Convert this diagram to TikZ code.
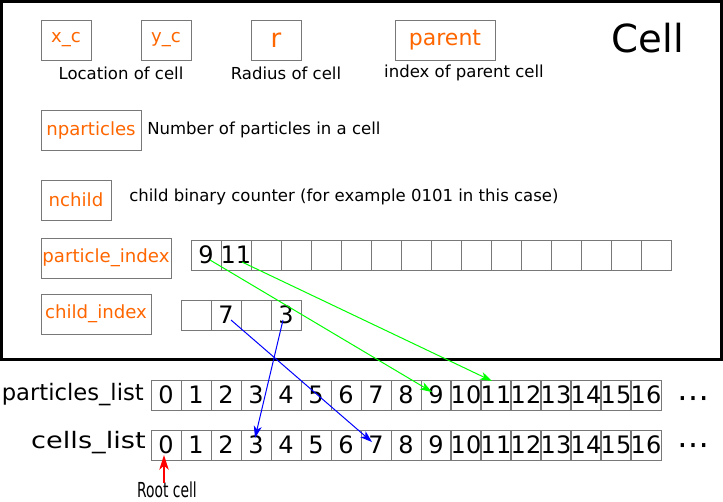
\documentclass[tikz,border=0pt]{standalone}
\usepackage{fontspec}
\setmainfont{DejaVu Sans}
\usetikzlibrary{arrows.meta}
\definecolor{fieldorange}{RGB}{255,102,0}
\definecolor{boxgray}{RGB}{120,120,120}
\newcommand\myfs[1]{\fontsize{#1}{#1}\selectfont}
\begin{document}
\begin{tikzpicture}[x=0.75pt,y=-0.75pt,
  field/.style={draw=boxgray,line width=0.75pt,text=fieldorange,inner sep=0pt,minimum height=30pt,font=\myfs{13.6pt}},
  desc/.style={inner sep=0pt,font=\myfs{12.4pt}},
  cellbox/.style={draw=boxgray,line width=0.75pt,minimum width=22.5pt,minimum height=22.5pt,inner sep=0pt,font=\myfs{18pt}},
  listlabel/.style={inner sep=0pt,anchor=east,font=\myfs{17pt}},
  dotsnode/.style={inner sep=0pt,font=\myfs{24pt}},
  garrow/.style={draw={rgb,255:red,0;green,255;blue,0},line width=0.75pt,-{Stealth[length=9pt,width=6pt,inset=2.5pt]}},
  barrow/.style={draw={rgb,255:red,0;green,0;blue,255},line width=0.75pt,-{Stealth[length=9pt,width=6pt,inset=2.5pt]}},
  rarrow/.style={draw={rgb,255:red,255;green,0;blue,0},line width=1.3pt,-{Stealth[length=11pt,width=7pt,inset=3pt]}}
]
\useasboundingbox (0,0) rectangle (723,501);
% Cell frame
\draw[line width=2.25pt] (1.5,1.5) rectangle (721.5,359.5);
\node[inner sep=0pt,font=\myfs{29pt}] (title) at (648,38) {Cell};
% fields
\node[field,minimum width=37.5pt] (xc) at (66,40) {x\_c};
\node[field,minimum width=37.5pt] (yc) at (166,40) {y\_c};
\node[field,minimum width=37.5pt,font=\myfs{19.5pt}] (r) at (276,40) {r};
\node[field,minimum width=75pt,font=\myfs{16.5pt}] (parent) at (445,40) {parent};
\node[desc] (loc) at (121,73) {Location of cell};
\node[desc] (rad) at (286,73) {Radius of cell};
\node[desc] (par) at (464,73) {index of parent cell};
\node[field,minimum width=75pt] (np) at (91,130) {nparticles};
\node[desc,anchor=west] (npd) at (147,130) {Number of particles in a cell};
\node[field,minimum width=52.5pt] (nc) at (76,200) {nchild};
\node[desc,anchor=west] (ncd) at (129,197) {child binary counter (for example 0101 in this case)};
\node[field,minimum width=97.5pt] (pidx) at (106,258) {particle\_index};
\node[field,minimum width=82.5pt] (cidx) at (96,314) {child\_index};
% particle_index cells
\foreach \k in {0,...,15} {\node[cellbox] (pi\k) at (206+30*\k,255) {};}
\node[cellbox,draw=none] at (pi0) {9};
\node[cellbox,draw=none] at (pi1) {11};
% child_index cells
\foreach \k in {0,...,3} {\node[cellbox] (ci\k) at (196+30*\k,315) {};}
\node[cellbox,draw=none] at (ci1) {7};
\node[cellbox,draw=none] at (ci3) {3};
% lists
\node[listlabel] (pl) at (144,395) {particles\_list};
\node[listlabel] (cl) at (146,443) {\scalebox{1.2}[1]{cells\_list}};
\foreach \k in {0,...,16} {
  \node[cellbox] (p\k) at (166+30*\k,395) {\k};
  \node[cellbox] (c\k) at (166+30*\k,445) {\k};
}
\node[dotsnode] (pdots) at (693,403) {⋯};
\node[dotsnode] (cdots) at (693,450) {⋯};
\node[inner sep=0pt,font=\myfs{15.5pt}] (root) at (167,490) {\scalebox{0.67}[1]{Root cell}};
% arrows
\draw[garrow] ([shift={(4,5)}]pi0.center) -- ([shift={(-4,-3)}]p9.center);
\draw[garrow] ([shift={(6,7)}]pi1.center) -- ([shift={(-4,-14)}]p11.center);
\draw[barrow] ([shift={(5,5)}]ci1.center) -- ([shift={(-4,-3)}]c7.center);
\draw[barrow] ([shift={(-3,5)}]ci3.center) -- ([shift={(-1,-7)}]c3.center);
\draw[rarrow] ([shift={(-3,-7)}]root.center) -- ([shift={(-2,10)}]c0.center);
\end{tikzpicture}
\end{document}
